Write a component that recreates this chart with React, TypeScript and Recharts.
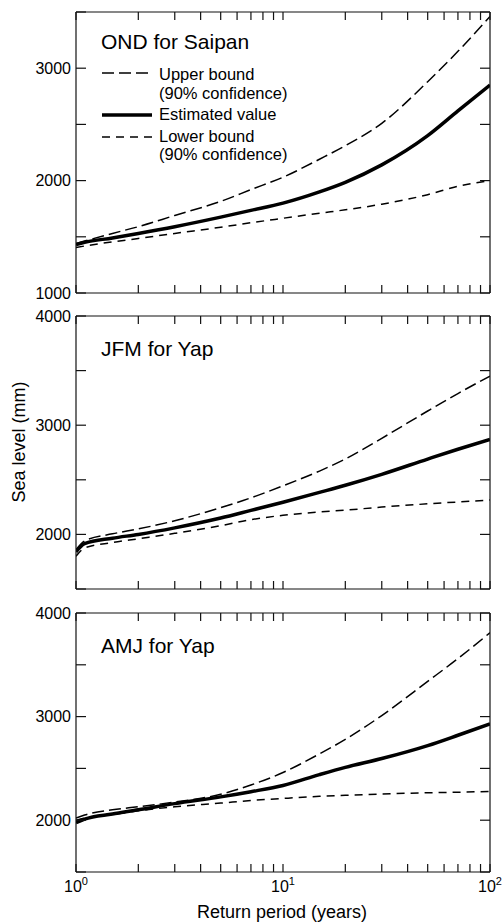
import { LineChart, Line, XAxis, YAxis } from "recharts";

// return periods (years) sampled along the curves
const returnPeriod = [1, 1.1, 1.5, 2, 3, 5, 7, 10, 15, 20, 30, 50, 70, 100];

// OND for Saipan (mm)
const ondUpper = [1440, 1462, 1530, 1590, 1690, 1815, 1920, 2030, 2190, 2310, 2510, 2880, 3150, 3460];
const ondEstimate = [1430, 1450, 1490, 1530, 1590, 1675, 1735, 1800, 1900, 1985, 2140, 2400, 2620, 2850];
const ondLower = [1405, 1418, 1455, 1485, 1530, 1585, 1625, 1665, 1710, 1740, 1790, 1875, 1950, 2000];

// JFM for Yap (mm)
const jfmUpper = [1860, 1940, 2005, 2050, 2125, 2245, 2335, 2445, 2580, 2690, 2880, 3130, 3290, 3450];
const jfmEstimate = [1840, 1915, 1965, 2000, 2060, 2150, 2220, 2295, 2385, 2450, 2550, 2690, 2780, 2870];
const jfmLower = [1800, 1875, 1925, 1960, 2010, 2080, 2135, 2175, 2205, 2222, 2250, 2280, 2297, 2315];

// AMJ for Yap (mm)
const amjUpper = [2020, 2050, 2100, 2130, 2175, 2250, 2340, 2460, 2640, 2780, 3010, 3340, 3560, 3810];
const amjEstimate = [1975, 2010, 2060, 2100, 2160, 2225, 2275, 2335, 2440, 2510, 2595, 2720, 2820, 2930];
const amjLower = [2000, 2020, 2055, 2090, 2130, 2165, 2190, 2210, 2230, 2240, 2252, 2265, 2270, 2278];

const xTicks = [1, 2, 3, 4, 5, 6, 7, 8, 9, 10, 20, 30, 40, 50, 60, 70, 80, 90, 100];
const saipanTicks = [1000, 1500, 2000, 2500, 3000, 3500];
const yapTicks = [1500, 2000, 2500, 3000, 3500, 4000];

const INK = "#000";
const FONT = "'Liberation Sans', Arial, Helvetica, sans-serif";
const axisStyle = { stroke: "#111", strokeWidth: 1.2 };

const rows = (u: number[], e: number[], l: number[]) =>
  returnPeriod.map((t, i) => ({ t, upper: u[i], est: e[i], lower: l[i] }));

const XTick = ({ x, y, payload, side, labels }: any) => {
  const v = payload.value;
  const lg = Math.log10(v);
  const exp = Math.round(lg);
  const major = Math.abs(lg - exp) < 1e-6;
  const dir = side === "top" ? 1 : -1;
  return (
    <g>
      <line x1={x} x2={x} y1={y} y2={y + dir * 8} stroke="#111" strokeWidth={1.2} />
      {labels && major && (
        <text x={x} y={y + 20} textAnchor="middle" fontSize={16} fontFamily={FONT} fill={INK}>
          10
          <tspan dy={-7} fontSize={11}>
            {exp}
          </tspan>
        </text>
      )}
    </g>
  );
};

const YTick = ({ x, y, payload, side }: any) => {
  const dir = side === "left" ? 1 : -1;
  const major = payload.value % 1000 === 0;
  return (
    <g>
      <line x1={x} x2={x + dir * 10} y1={y} y2={y} stroke="#111" strokeWidth={1.2} />
      {side === "left" && major && (
        <text x={x - 5} y={y} dy="0.36em" textAnchor="end" fontSize={16} fontFamily={FONT} fill={INK}>
          {payload.value}
        </text>
      )}
    </g>
  );
};

function Panel({ top, height, mTop, mBottom, data, domain, yTicks, xLabels }: any) {
  return (
    <div style={{ position: "absolute", left: 0, top }}>
      <LineChart width={504} height={height} data={data} margin={{ top: mTop - 1, right: 13, bottom: mBottom - 1, left: 0 }}>
        <XAxis
          dataKey="t"
          type="number"
          scale="log"
          domain={[1, 100]}
          ticks={xTicks}
          interval={0}
          allowDataOverflow
          height={1}
          tickSize={0}
          tickMargin={0}
          tickLine={false}
          axisLine={axisStyle}
          tick={(p: any) => <XTick {...p} side="bottom" labels={xLabels} />}
        />
        <XAxis
          xAxisId="top"
          orientation="top"
          dataKey="t"
          type="number"
          scale="log"
          domain={[1, 100]}
          ticks={xTicks}
          interval={0}
          allowDataOverflow
          height={1}
          tickSize={0}
          tickMargin={0}
          tickLine={false}
          axisLine={axisStyle}
          tick={(p: any) => <XTick {...p} side="top" labels={false} />}
        />
        <YAxis
          type="number"
          domain={domain}
          ticks={yTicks}
          interval={0}
          allowDataOverflow
          width={76}
          tickSize={0}
          tickMargin={0}
          tickLine={false}
          axisLine={axisStyle}
          tick={(p: any) => <YTick {...p} side="left" />}
        />
        <YAxis
          yAxisId="right"
          orientation="right"
          type="number"
          domain={domain}
          ticks={yTicks}
          interval={0}
          allowDataOverflow
          width={1}
          tickSize={0}
          tickMargin={0}
          tickLine={false}
          axisLine={axisStyle}
          tick={(p: any) => <YTick {...p} side="right" />}
        />
        {/* invisible series so the top and right frame axes are laid out */}
        <Line xAxisId="top" yAxisId="right" dataKey="est" stroke="none" dot={false} legendType="none" isAnimationActive={false} />
        <Line type="monotone" dataKey="upper" stroke={INK} strokeWidth={1.5} strokeDasharray="12 5" dot={false} isAnimationActive={false} />
        <Line type="monotone" dataKey="lower" stroke={INK} strokeWidth={1.5} strokeDasharray="8 6" dot={false} isAnimationActive={false} />
        <Line type="monotone" dataKey="est" stroke={INK} strokeWidth={3.5} dot={false} isAnimationActive={false} />
      </LineChart>
    </div>
  );
}

export default function App() {
  return (
    <div style={{ position: "absolute", left: 0, top: 0, width: 504, height: 923, background: "#fff" }}>
      <Panel top={0} height={310} mTop={12} mBottom={17} data={rows(ondUpper, ondEstimate, ondLower)} domain={[1000, 3500]} yTicks={saipanTicks} xLabels={false} />
      <Panel top={300} height={300} mTop={16} mBottom={11} data={rows(jfmUpper, jfmEstimate, jfmLower)} domain={[1500, 4000]} yTicks={yapTicks} xLabels={false} />
      <Panel top={600} height={323} mTop={13} mBottom={51} data={rows(amjUpper, amjEstimate, amjLower)} domain={[1500, 4000]} yTicks={yapTicks} xLabels={true} />
      <svg width={504} height={923} style={{ position: "absolute", left: 0, top: 0, pointerEvents: "none" }} fontFamily={FONT} fill={INK}>
        <text x={101} y={49} fontSize={21}>OND for Saipan</text>
        <text x={101} y={356} fontSize={21}>JFM for Yap</text>
        <text x={101} y={653} fontSize={21}>AMJ for Yap</text>
        <line x1={102} x2={152} y1={73} y2={73} stroke={INK} strokeWidth={1.5} strokeDasharray="12 5" />
        <line x1={102} x2={152} y1={115} y2={115} stroke={INK} strokeWidth={3.5} />
        <line x1={102} x2={152} y1={137} y2={137} stroke={INK} strokeWidth={1.5} strokeDasharray="8 6" />
        <text x={159} y={80} fontSize={16.5}>Upper bound</text>
        <text x={159} y={98.5} fontSize={16.5}>(90% confidence)</text>
        <text x={159} y={120} fontSize={16.5}>Estimated value</text>
        <text x={159} y={141.5} fontSize={16.5}>Lower bound</text>
        <text x={159} y={160} fontSize={16.5}>(90% confidence)</text>
        <text transform="translate(24.5, 442) rotate(-90)" textAnchor="middle" fontSize={18}>Sea level (mm)</text>
        <text x={282} y={918} textAnchor="middle" fontSize={18}>Return period (years)</text>
      </svg>
    </div>
  );
}
